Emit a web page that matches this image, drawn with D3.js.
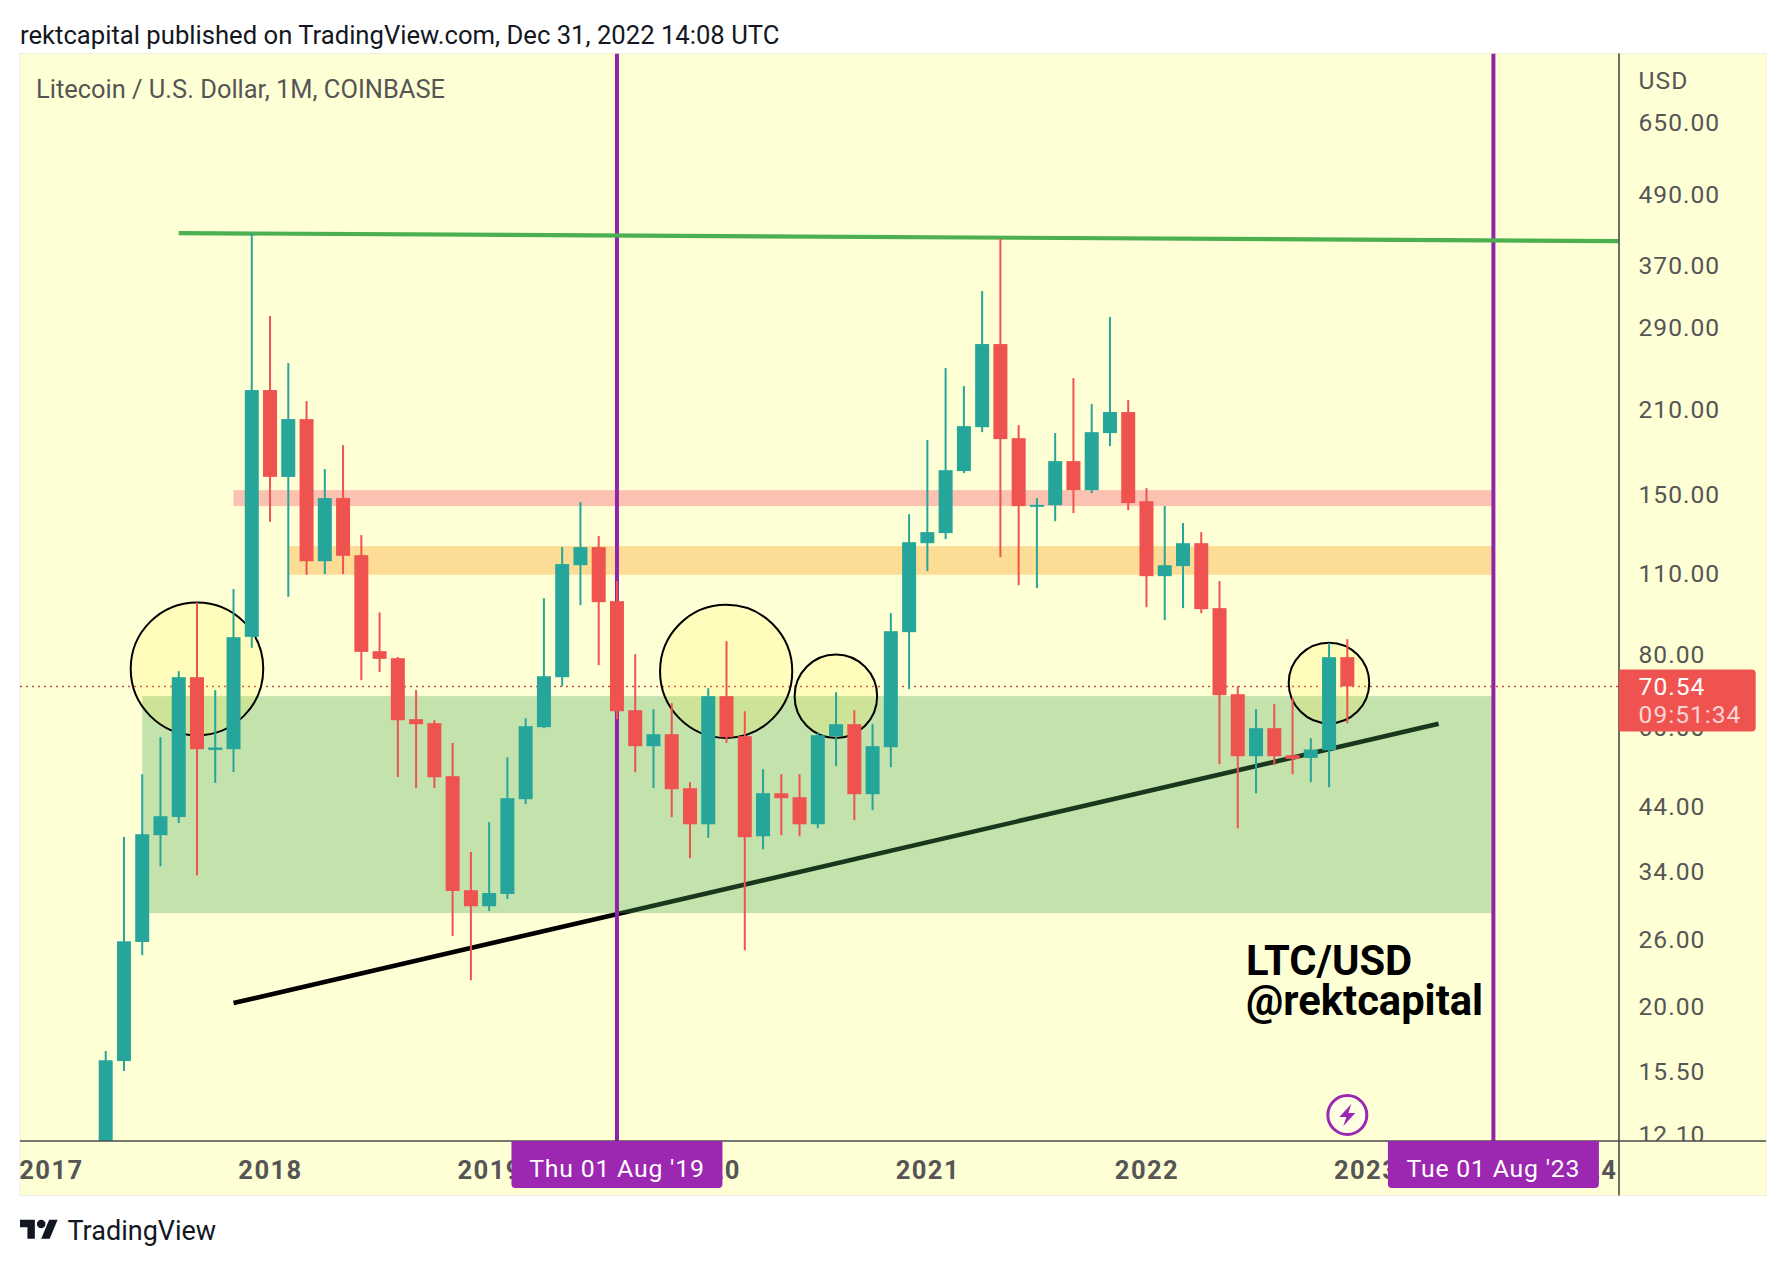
<!DOCTYPE html>
<html lang="en">
<head>
    <meta charset="UTF-8">
    <title>LTC/USD</title>
    <script src="https://d3js.org/d3.v7.min.js"></script>
    <style>
        html, body { margin: 0; background: #fff; }
        svg { display: block; }
        text { font-family: Roboto, sans-serif; }
        .price-axis text { font-size: 24.6px; fill: #555; letter-spacing: 1px; }
        .time-axis text { font-size: 25.6px; font-weight: 700; fill: #555; letter-spacing: 1.4px; }
        .tag { font-size: 24.8px; fill: #fff; letter-spacing: 0.8px; text-anchor: middle; }
    </style>
</head>
<body>
    <div id="chart"></div>

    <script>
        // monthly candles, Apr 2017 .. Dec 2022
        const firstMonth = new Date(2017, 3, 1);
        const opens = [5.0, 16.14, 25.79, 39.27, 42.20, 73.16, 54.94, 55.10, 85.74, 226.6, 161.0, 202.1, 115.5, 148.1, 118.3, 81.05, 78.84, 62.01, 61.04, 49.54, 31.62, 29.69, 31.16,
            45.25, 60.08, 73.16, 113.7, 122.1, 98.69, 64.24, 55.75, 58.45, 47.25, 41.00, 67.89, 57.99, 39.11, 46.33, 45.61, 41.00, 57.99, 60.80, 46.15, 55.53, 87.35, 124.0,
            129.0, 164.7, 195.8, 271.6, 187.5, 143.3, 144.0, 171.3, 152.8, 191.3, 207.8, 146.3, 108.9, 113.3, 124.0, 96.01, 68.42, 53.60, 59.85, 53.81, 53.24, 54.88, 79.16];
        const highs = [16.79, 39.00, 49.93, 57.76, 74.91, 98.19, 69.51, 103.5, 420.0, 303.2, 252.0, 217.0, 166.0, 182.4, 128.0, 94.39, 79.25, 69.51, 61.76, 56.48, 36.77, 41.33, 53.39,
            62.25, 99.86, 122.1, 145.8, 127.5, 106.9, 80.10, 64.50, 66.04, 48.38, 70.06, 84.30, 63.99, 50.92, 49.93, 49.93, 58.68, 68.96, 64.24, 60.80, 94.13, 139.0, 186.1,
            247.1, 230.2, 334.6, 411.8, 197.4, 148.1, 191.3, 237.5, 214.4, 302.0, 217.8, 154.0, 143.5, 134.2, 129.5, 106.8, 70.61, 64.50, 65.78, 67.35, 57.54, 83.64, 84.97];
        const lows = [4.8, 15.52, 24.48, 34.75, 41.21, 33.54, 48.25, 50.38, 82.11, 134.9, 100.4, 109.5, 109.8, 109.8, 72.30, 74.70, 49.40, 47.31, 47.31, 26.41, 22.18, 29.14, 30.55,
            44.37, 59.85, 70.61, 97.15, 76.70, 62.01, 50.32, 47.25, 42.15, 35.87, 38.85, 56.48, 24.96, 37.16, 39.27, 39.11, 40.36, 51.53, 41.66, 43.33, 51.32, 69.78, 111.1,
            126.0, 163.4, 192.0, 117.4, 105.1, 103.9, 135.2, 139.6, 151.0, 181.7, 141.2, 96.38, 91.57, 96.01, 94.13, 51.94, 40.36, 46.33, 51.73, 49.93, 48.38, 47.44, 61.04];
        const closes = [16.19, 25.86, 39.42, 42.32, 73.16, 55.10, 55.47, 85.64, 226.6, 161.0, 202.1, 115.5, 148.1, 118.0, 80.83, 78.63, 61.76, 60.80, 49.34, 31.53, 29.69, 31.28, 45.43,
            60.32, 73.45, 114.2, 122.1, 98.30, 63.99, 55.75, 58.45, 47.06, 41.00, 67.89, 57.76, 38.96, 46.33, 45.43, 41.00, 58.22, 60.80, 46.15, 55.75, 87.69, 124.5, 129.5,
            165.3, 196.6, 271.6, 186.8, 143.5, 144.2, 171.3, 152.8, 192.0, 207.8, 145.2, 108.9, 113.7, 124.0, 95.63, 68.15, 53.60, 59.85, 53.60, 53.03, 55.03, 79.16, 70.54];

        const priceTicks = [650, 490, 370, 290, 210, 150, 110, 80, 60, 44, 34, 26, 20, 15.5, 12.1];
        const yearTicks = [2017, 2018, 2019, 2020, 2021, 2022, 2023, 2024];

        // drawings, in month index / price
        const zoneNames = ["pink", "orange", "green"];
        const zoneStart = [7, 10, 2];
        const zoneTop = [152.8, 122.6, 67.9];
        const zoneBottom = [143.5, 109.5, 28.9];
        const zoneColor = ["rgba(245,52,94,.3)", "rgba(248,142,0,.3)", "rgba(76,167,84,.33)"];
        const cycleMonths = [28, 76];
        const cycleLabels = ["Thu 01 Aug '19", "Tue 01 Aug '23"];
        const circleLeft = [1.37, 30.36, 37.73, 64.79];
        const circleRight = [8.63, 37.6, 42.25, 69.2];
        const circleTop = [98.2, 97.3, 80.0, 83.8];
        const circleBottom = [58.2, 57.6, 57.6, 61.0];
        const resistance = [[4, 420.4], [82.87, 407.4]];
        const support = [[7, 20.28], [73, 60.9]];
        const lastPrice = 70.54;

        const width = 1786, height = 1266;
        const frame = { left: 20, right: 1766, top: 53.5, bottom: 1195.5 };
        const plotRight = 1619, plotBottom = 1141;

        const x = d3.scaleLinear().domain([0, 76]).range([105.7, 1493.4]);
        const y = d3.scaleLog().domain([852.7, 11.78]).range([frame.top, plotBottom]);
        const yearIndex = yr => d3.timeMonth.count(firstMonth, new Date(yr, 0, 1));

        const candles = opens.map((o, i) => ({
            month: d3.timeMonth.offset(firstMonth, i),
            i, o, h: highs[i], l: lows[i], c: closes[i], up: closes[i] >= o
        }));

        const svg = d3.select("#chart").append("svg")
            .attr("width", width).attr("height", height);

        const defs = svg.append("defs");
        defs.append("clipPath").attr("id", "plot-clip").append("rect")
            .attr("x", frame.left).attr("y", frame.top)
            .attr("width", plotRight - frame.left).attr("height", plotBottom - frame.top);
        defs.append("clipPath").attr("id", "price-clip").append("rect")
            .attr("x", plotRight).attr("y", frame.top)
            .attr("width", frame.right - plotRight).attr("height", plotBottom - frame.top);
        defs.append("clipPath").attr("id", "time-clip").append("rect")
            .attr("x", frame.left).attr("y", plotBottom)
            .attr("width", plotRight - frame.left).attr("height", frame.bottom - plotBottom);

        svg.append("text")
            .attr("x", 20).attr("y", 44)
            .style("font-size", "25.65px").style("fill", "#131722")
            .text("rektcapital published on TradingView.com, Dec 31, 2022 14:08 UTC");

        svg.append("rect")
            .attr("x", frame.left).attr("y", frame.top)
            .attr("width", frame.right - frame.left).attr("height", frame.bottom - frame.top)
            .attr("fill", "#ffffd6").attr("stroke", "#efefdf");

        const plot = svg.append("g").attr("clip-path", "url(#plot-clip)");
        const line = d3.line().x(d => x(d[0])).y(d => y(d[1]));

        // support sits under the green box, that's why it turns dark in there
        plot.append("path").attr("d", line(support))
            .attr("fill", "none").attr("stroke", "#000").attr("stroke-width", 4.6);

        plot.selectAll(".zone").data(zoneNames).enter().append("rect")
            .attr("class", "zone")
            .attr("x", (d, i) => x(zoneStart[i]))
            .attr("y", (d, i) => y(zoneTop[i]))
            .attr("width", (d, i) => x(76) - x(zoneStart[i]))
            .attr("height", (d, i) => y(zoneBottom[i]) - y(zoneTop[i]))
            .attr("fill", (d, i) => zoneColor[i]);

        plot.append("line")
            .attr("x1", frame.left).attr("x2", plotRight)
            .attr("y1", y(lastPrice)).attr("y2", y(lastPrice))
            .attr("stroke", "#c8504a").attr("stroke-width", 1.6).attr("stroke-dasharray", "2 4");

        plot.selectAll(".circle").data(circleLeft).enter().append("ellipse")
            .attr("class", "circle")
            .attr("cx", (d, i) => (x(d) + x(circleRight[i])) / 2)
            .attr("cy", (d, i) => (y(circleTop[i]) + y(circleBottom[i])) / 2)
            .attr("rx", (d, i) => (x(circleRight[i]) - x(d)) / 2)
            .attr("ry", (d, i) => (y(circleBottom[i]) - y(circleTop[i])) / 2)
            .attr("fill", "rgba(255,235,59,.16)").attr("stroke", "#000").attr("stroke-width", 2);

        plot.selectAll(".cycle").data(cycleMonths).enter().append("line")
            .attr("class", "cycle")
            .attr("x1", d => x(d)).attr("x2", d => x(d))
            .attr("y1", frame.top).attr("y2", plotBottom)
            .attr("stroke", "#8e24aa").attr("stroke-width", 4);

        plot.append("path").attr("d", line(resistance))
            .attr("fill", "none").attr("stroke", "#4caf50").attr("stroke-width", 4.2);

        const candle = plot.selectAll(".candle").data(candles).enter().append("g")
            .attr("class", "candle")
            .attr("fill", d => d.up ? "#26a69a" : "#ef5350");
        candle.append("rect")
            .attr("x", d => x(d.i) - 1).attr("width", 2)
            .attr("y", d => y(d.h)).attr("height", d => y(d.l) - y(d.h));
        candle.append("rect")
            .attr("x", d => x(d.i) - 7).attr("width", 14)
            .attr("y", d => y(Math.max(d.o, d.c)))
            .attr("height", d => Math.max(2, y(Math.min(d.o, d.c)) - y(Math.max(d.o, d.c))));

        svg.append("text")
            .attr("x", 36).attr("y", 97.5)
            .style("font-size", "25.45px").style("fill", "#555")
            .text("Litecoin / U.S. Dollar, 1M, COINBASE");

        const watermark = svg.append("g")
            .style("font-size", "41.7px").style("font-weight", 700).style("fill", "#000");
        watermark.append("text").attr("x", 1246).attr("y", 975).text("LTC/USD");
        watermark.append("text").attr("x", 1246).attr("y", 1015).text("@rektcapital");

        // lightning badge on the last candle
        const badge = svg.append("g")
            .attr("transform", `translate(${x(68)},1115)`);
        badge.append("circle").attr("r", 19.5)
            .attr("fill", "#ffffe6").attr("stroke", "#9c27b0").attr("stroke-width", 3);
        badge.append("path")
            .attr("d", "M4 -11 L-8 2 L-1 2 L-4 11 L8 -2 L1 -2 Z")
            .attr("fill", "#9c27b0");

        // axes
        svg.append("g").attr("class", "price-axis")
            .attr("clip-path", "url(#price-clip)")
            .append("g")
            .attr("transform", `translate(${plotRight},0)`)
            .call(d3.axisRight(y).tickValues(priceTicks).tickSize(0).tickPadding(19.5).tickFormat(d3.format(".2f")))
            .call(g => g.select(".domain").remove());

        svg.append("g").attr("class", "time-axis")
            .attr("clip-path", "url(#time-clip)")
            .append("g")
            .attr("transform", `translate(0,${plotBottom})`)
            .call(d3.axisBottom(d3.scaleLinear().domain(x.domain()).range(x.range()))
                .tickValues(yearTicks.map(yearIndex)).tickSize(0).tickPadding(20)
                .tickFormat((d, i) => yearTicks[i]))
            .call(g => g.select(".domain").remove());

        svg.append("text")
            .attr("x", 1638.6).attr("y", 88.5)
            .style("font-size", "24.6px").style("fill", "#555").style("letter-spacing", "1px")
            .text("USD");

        svg.append("line")
            .attr("x1", frame.left).attr("x2", frame.right)
            .attr("y1", plotBottom).attr("y2", plotBottom)
            .attr("stroke", "#4a4a4a").attr("stroke-width", 1.6);
        svg.append("line")
            .attr("x1", plotRight).attr("x2", plotRight)
            .attr("y1", frame.top).attr("y2", frame.bottom)
            .attr("stroke", "#4a4a4a").attr("stroke-width", 1.6);

        // date tags under the vertical lines
        const tag = svg.selectAll(".date-tag").data(cycleMonths).enter().append("g")
            .attr("class", "date-tag")
            .attr("transform", d => `translate(${x(d)},${plotBottom})`);
        tag.append("path")
            .attr("d", "M-105.5 0 H105.5 V43 a4 4 0 0 1 -4 4 H-101.5 a4 4 0 0 1 -4 -4 Z")
            .attr("fill", "#9c27b0");
        tag.append("text").attr("class", "tag")
            .attr("y", 35.5)
            .text((d, i) => cycleLabels[i]);

        // last price box
        const priceBox = svg.append("g")
            .attr("transform", `translate(${plotRight},${y(lastPrice)})`);
        priceBox.append("path")
            .attr("d", "M0 -17 H132.7 a4 4 0 0 1 4 4 V41 a4 4 0 0 1 -4 4 H0 Z")
            .attr("fill", "#ef5350");
        priceBox.append("text")
            .attr("x", 19.6).attr("y", 8.5)
            .style("font-size", "24.6px").style("fill", "#fff").style("letter-spacing", "1px")
            .text(d3.format(".2f")(lastPrice));
        priceBox.append("text")
            .attr("x", 19.6).attr("y", 36.3)
            .style("font-size", "24.6px").style("fill", "rgba(255,255,255,.75)").style("letter-spacing", "1px")
            .text("09:51:34");

        // footer logo
        const logo = svg.append("g").attr("transform", "translate(20,1215.5) scale(1.06)").attr("fill", "#131722");
        logo.append("path").attr("d", "M14 22H7V11H0V4h14v18zM28 22h-8l7.5-18h8L28 22z");
        logo.append("circle").attr("cx", 20).attr("cy", 8).attr("r", 4);
        svg.append("text")
            .attr("x", 67.5).attr("y", 1239.5)
            .style("font-size", "27px").style("fill", "#131722")
            .text("TradingView");
    </script>
</body>
</html>
